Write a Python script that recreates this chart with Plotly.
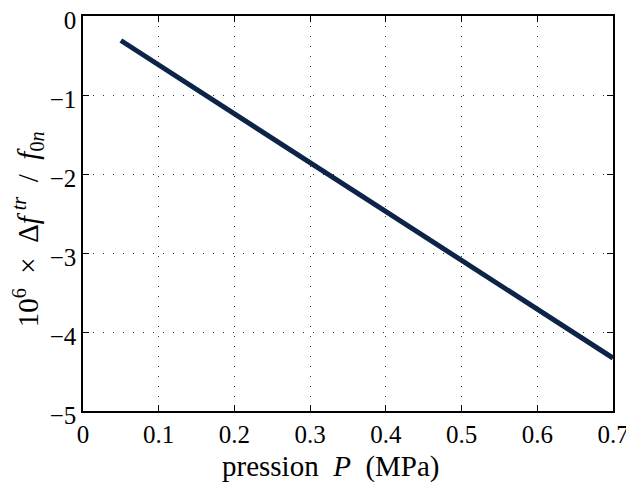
import plotly.graph_objects as go

pression = [0.05, 0.1, 0.2, 0.3, 0.4, 0.5, 0.6, 0.7]
delta_f = [-0.31, -0.62, -1.24, -1.86, -2.48, -3.10, -3.72, -4.33]

x_ticks = [0, 0.1, 0.2, 0.3, 0.4, 0.5, 0.6, 0.7]
x_labels = ["0", "0.1", "0.2", "0.3", "0.4", "0.5", "0.6", "0.7"]
y_ticks = [0, -1, -2, -3, -4, -5]
y_labels = ["0", "−1", "−2", "−3", "−4", "−5"]

x_title = "pression\u2002<i>P</i>\u2002(MPa)"
y_title = "10<sup>6</sup>\u2002×\u2002Δ<i>f</i>\u2009<sup><i>tr</i></sup>\u2002/\u2002<i>f</i><sub>0<i>n</i></sub>"

font = "Liberation Serif"

fig = go.Figure()
fig.add_trace(go.Scatter(x=pression, y=delta_f, mode="lines",
                         line=dict(color="#0b2447", width=5), showlegend=False))

axis_common = dict(showline=True, linecolor="black", linewidth=1.5, mirror="ticks",
                   ticks="inside", ticklen=6, tickcolor="black", automargin=False,
                   ticklabeloverflow="allow",
                   showgrid=True, gridcolor="#333333", griddash="1px,9px", gridwidth=1,
                   zeroline=False, tickfont=dict(family=font, size=25, color="black"))

fig.update_xaxes(range=[0, 0.7], tickvals=x_ticks, ticktext=x_labels, **axis_common)
fig.update_yaxes(range=[-5, 0], tickvals=y_ticks, ticktext=y_labels,
                 ticklabelshift=4, **axis_common)

fig.add_annotation(text=x_title, xref="paper", yref="paper", x=0.468, y=0,
                   xanchor="center", yanchor="middle", yshift=-55, showarrow=False,
                   font=dict(family=font, size=29, color="black"))
fig.add_annotation(text=y_title, xref="paper", yref="paper", x=0, y=0.46,
                   xanchor="center", yanchor="middle", xshift=-55, textangle=-90,
                   showarrow=False, font=dict(family=font, size=29, color="black"))

fig.update_layout(width=626, height=485, margin=dict(l=75, r=21, t=8, b=82),
                  plot_bgcolor="white", paper_bgcolor="white")

fig.write_html("out.html")
